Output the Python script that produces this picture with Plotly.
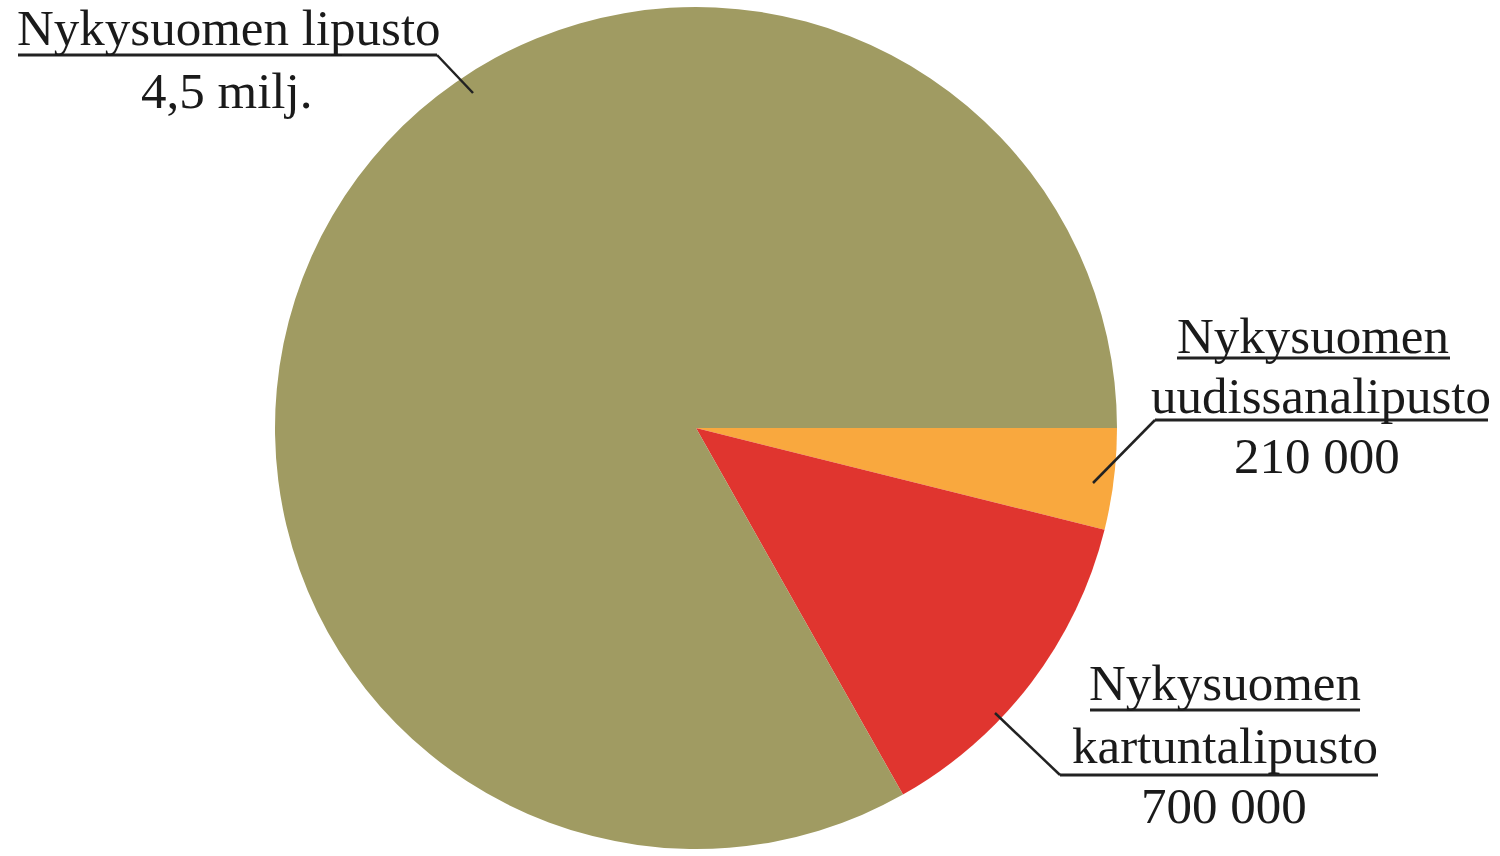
import plotly.graph_objects as go

# ---- data ----
categories = ["Nykysuomen uudissanalipusto", "Nykysuomen kartuntalipusto", "Nykysuomen lipusto"]
values = [210000, 700000, 4500000]
value_labels = ["210 000", "700 000", "4,5 milj."]
colors = ["#F9A83E", "#E0352F", "#A09B62"]

W, H = 1500, 856
FONT = "Liberation Serif"
FS = 51
TXT = "#1a1a1a"


def px(x):
    return x / W


def py(y):
    return 1 - y / H


fig = go.Figure(go.Pie(
    labels=categories,
    values=values,
    marker=dict(colors=colors, line=dict(width=0)),
    sort=False,
    direction="clockwise",
    rotation=90,
    textinfo="none",
    hoverinfo="label+value",
    showlegend=False,
    domain=dict(x=[275 / W, 1117 / W], y=[1 - 849 / H, 1 - 7 / H]),
))

# label text lines: (text, center x px, baseline y px)
lines = [
    (categories[2], 229, 45),
    (value_labels[2], 227, 108),
    ("Nykysuomen", 1313, 353),
    ("uudissanalipusto", 1321, 413),
    (value_labels[0], 1317, 473),
    ("Nykysuomen", 1225, 700),
    ("kartuntalipusto", 1225, 763),
    (value_labels[1], 1224, 823),
]
annotations = []
for t, cx, base in lines:
    annotations.append(dict(
        text=t, x=px(cx), y=py(base - 17), xref="paper", yref="paper",
        xanchor="center", yanchor="middle", showarrow=False,
        font=dict(family=FONT, size=FS, color=TXT),
    ))

shapes = []
# underlines: (y, x0, x1)
underlines = [(55, 18, 437), (358, 1177, 1450), (420, 1155, 1488),
              (710, 1090, 1360), (775, 1060, 1378)]
for y, x0, x1 in underlines:
    shapes.append(dict(type="line", xref="paper", yref="paper",
                       x0=px(x0), x1=px(x1), y0=py(y), y1=py(y),
                       line=dict(color="#222222", width=3)))
# leader lines
leaders = [((437, 55), (473, 93)), ((1155, 420), (1093, 483)), ((1060, 775), (995, 713))]
for (xa, ya), (xb, yb) in leaders:
    shapes.append(dict(type="line", xref="paper", yref="paper",
                       x0=px(xa), y0=py(ya), x1=px(xb), y1=py(yb),
                       line=dict(color="#222222", width=2.5)))

fig.update_layout(
    width=W, height=H,
    margin=dict(l=0, r=0, t=0, b=0),
    paper_bgcolor="white", plot_bgcolor="white",
    annotations=annotations, shapes=shapes,
)

fig.write_html(
    "out.html",
    config={"displayModeBar": False},
    post_script="document.body.style.margin='0';document.body.style.overflow='hidden';",
)
